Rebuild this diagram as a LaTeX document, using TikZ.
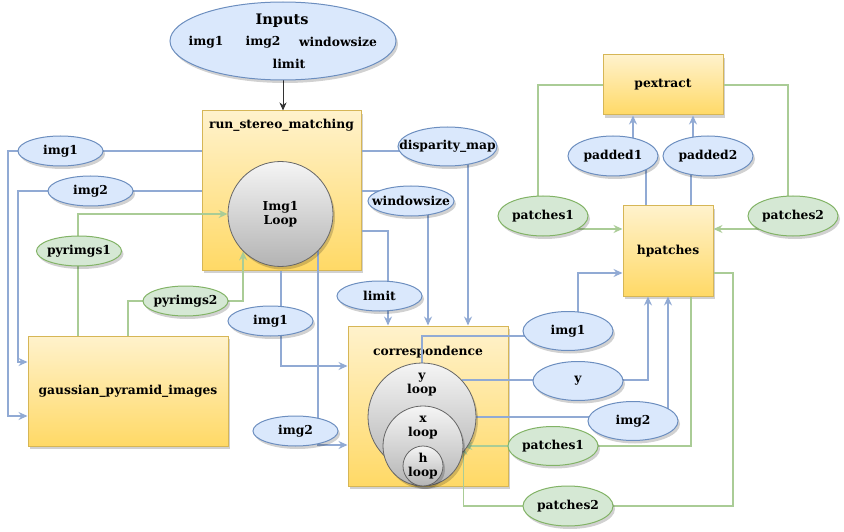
\documentclass[tikz,border=0pt]{standalone}
\usepackage{fontspec}
\setmainfont{DejaVu Serif}
\usetikzlibrary{shapes.geometric,arrows.meta,shadows,backgrounds,calc}
\pgfdeclarelayer{front}
\pgfsetlayers{background,main,front}
\definecolor{boxtop}{HTML}{FFF2CC}
\definecolor{boxbot}{HTML}{FFD966}
\definecolor{boxline}{HTML}{D6B656}
\definecolor{looptop}{HTML}{F5F5F5}
\definecolor{loopbot}{HTML}{B3B3B3}
\definecolor{loopline}{HTML}{666666}
\definecolor{bluefill}{HTML}{DAE8FC}
\definecolor{blueline}{HTML}{6C8EBF}
\definecolor{greenfill}{HTML}{D5E8D4}
\definecolor{greenline}{HTML}{82B366}
\definecolor{edgeblue}{RGB}{145,170,212}
\definecolor{edgegreen}{RGB}{170,204,150}
\begin{document}
\begin{tikzpicture}[x=1pt,y=-1pt,
  font=\bfseries\fontsize{12.3}{14}\selectfont,
  softshadow/.style={drop shadow={shadow xshift=2pt,shadow yshift=-3pt,opacity=0.18,fill=black}},
  procbox/.style={rectangle,draw=boxline,line width=1pt,top color=boxtop,bottom color=boxbot,inner sep=0pt,softshadow},
  loopball/.style={circle,draw=loopline,line width=0.8pt,top color=looptop,bottom color=loopbot,inner sep=0pt,align=center,softshadow},
  dataell/.style={ellipse,line width=1pt,inner xsep=-30pt,inner ysep=-8pt,softshadow},
  blueell/.style={dataell,draw=blueline,fill=bluefill},
  greenell/.style={dataell,draw=greenline,fill=greenfill},
  txt/.style={align=center,inner sep=0pt},
  blueflow/.style={draw=edgeblue,line width=1.4pt},
  greenflow/.style={draw=edgegreen,line width=1.4pt},
  tipend/.style={-{Stealth[length=9pt,width=8pt,inset=3pt]}},
]
\useasboundingbox (0,0) rectangle (844,532);

% process boxes
\begin{pgfonlayer}{background}
  \node[procbox,minimum width=159pt,minimum height=159pt] (rsm) at (281.5,190.5) {};
  \node[txt] (rsmT) at (281.5,125) {run\_stereo\_matching};
  \node[procbox,minimum width=200pt,minimum height=110pt] (gauss) at (128,391) {gaussian\_pyramid\_images};
  \node[procbox,minimum width=160pt,minimum height=160pt] (corr) at (428,406) {};
  \node[txt] (corrT) at (428,352) {correspondence};
  \node[procbox,minimum width=120pt,minimum height=60pt] (pextract) at (663,85) {pextract};
  \node[procbox,minimum width=90pt,minimum height=90pt] (hpatches) at (668,251) {hpatches};
\end{pgfonlayer}

% data ellipses and loops
\begin{pgfonlayer}{front}
  \node[blueell,minimum width=226pt,minimum height=78pt] (inputs) at (283,41) {};
  \node[txt,font=\bfseries\fontsize{14.5}{16}\selectfont] (inT) at (282,21) {Inputs};
  \node[txt] (inA) at (206,42) {img1};
  \node[txt] (inB) at (263,42) {img2};
  \node[txt] (inC) at (338,42) {windowsize};
  \node[txt] (inD) at (289,64) {limit};

  \node[loopball,minimum size=105pt] (img1loop) at (280.5,214) {Img1\\Loop};
  \node[loopball,minimum size=108pt] (yloop) at (422,417) {};
  \node[loopball,minimum size=80pt] (xloop) at (423,446) {};
  \node[loopball,minimum size=40pt] (hloop) at (423,466) {};
  \node[txt] (yT) at (422,385) {y\\loop};
  \node[txt] (xT) at (423,428) {x\\loop};
  \node[txt] (hT) at (423,466) {h\\loop};

  \node[blueell,minimum width=85pt,minimum height=30pt] (img1L) at (60.5,151) {img1};
  \node[blueell,minimum width=85pt,minimum height=30pt] (img2L) at (90.5,191) {img2};
  \node[greenell,minimum width=85pt,minimum height=30pt] (pyr1) at (79,251) {pyrimgs1};
  \node[greenell,minimum width=85pt,minimum height=30pt] (pyr2) at (185.5,301) {pyrimgs2};
  \node[blueell,minimum width=85pt,minimum height=30pt] (img1M) at (270.5,321) {img1};
  \node[blueell,minimum width=85pt,minimum height=30pt] (img2M) at (295.5,431) {img2};
  \node[blueell,minimum width=85pt,minimum height=30pt] (limit) at (379.5,296) {limit};
  \node[blueell,minimum width=99pt,minimum height=39pt] (disp) at (447.5,146.5) {disparity\_map};
  \node[blueell,minimum width=86pt,minimum height=30pt] (wsize) at (411,201) {windowsize};
  \node[blueell,minimum width=90pt,minimum height=39pt] (img1R) at (568,331) {img1};
  \node[blueell,minimum width=90pt,minimum height=39pt] (yR) at (578,381) {y};
  \node[blueell,minimum width=90pt,minimum height=39pt] (img2R) at (633,421) {img2};
  \node[greenell,minimum width=90pt,minimum height=39pt] (pat1L) at (553,446) {patches1};
  \node[greenell,minimum width=90pt,minimum height=40pt] (pat2L) at (568,506) {patches2};
  \node[blueell,minimum width=90pt,minimum height=40pt] (pad1) at (613,156) {padded1};
  \node[blueell,minimum width=90pt,minimum height=40pt] (pad2) at (708,156) {padded2};
  \node[greenell,minimum width=90pt,minimum height=40pt] (pat1U) at (543,216) {patches1};
  \node[greenell,minimum width=90pt,minimum height=40pt] (pat2U) at (793,216) {patches2};
\end{pgfonlayer}

% connectors
\draw[line width=1pt,draw=black!80,-{Stealth[length=8pt,width=7pt,inset=2.5pt]}] (inputs.south) -- (inputs.south |- rsm.north);

\draw[blueflow,tipend] (rsm.west |- img1L) -| (8,416) -- (gauss.west |- 0,416);
\draw[blueflow,tipend] (rsm.west |- img2L) -| (18,362) -- (gauss.west |- 0,362);
\draw[greenflow,tipend] (gauss.north -| 78,0) |- (img1loop.west);
\draw[greenflow,tipend] (gauss.north -| 128,0) |- (img1loop.225 |- pyr2) -- (img1loop.225);

\draw[blueflow,tipend] (rsm.south -| 281,0) |- (corr.west |- 0,366);
\draw[blueflow,tipend] (img1loop.-45) |- (corr.west |- 0,445);
\draw[blueflow,tipend] (rsm.east |- 0,151) -| (corr.north -| 468,0);
\draw[blueflow,tipend] (rsm.east |- 0,191) -| (corr.north -| 428,0);
\draw[blueflow,tipend] (rsm.east |- 0,231) -| (corr.north -| 388,0);

\draw[blueflow,tipend] (yloop.north) |- (578,336) |- (hpatches.west |- 0,273);
\draw[blueflow,tipend] (yloop.43) -| (hpatches.south -| 648,0);
\draw[blueflow,tipend] (yloop.east) -| (hpatches.south -| 668,0);

\draw[greenflow,tipend] (hpatches.south -| 691,0) |- (xloop.east);
\draw[greenflow,tipend] (hpatches.east |- 0,273) -| (733,506) -| (xloop.east);

\draw[greenflow,tipend] (pextract.west) -| (538,229) -- (hpatches.west |- 0,229);
\draw[greenflow,tipend] (pextract.east) -| (788,229) -- (hpatches.east |- 0,229);

\draw[blueflow] (hpatches.north -| 646,0) -- (pad1.center -| 646,0);
\draw[blueflow,tipend] (pad1.center -| 633,0) -- (pextract.south -| 633,0);
\draw[blueflow] (hpatches.north -| 691,0) -- (pad2.center -| 691,0);
\draw[blueflow,tipend] (pad2.center -| 693,0) -- (pextract.south -| 693,0);
\end{tikzpicture}
\end{document}
